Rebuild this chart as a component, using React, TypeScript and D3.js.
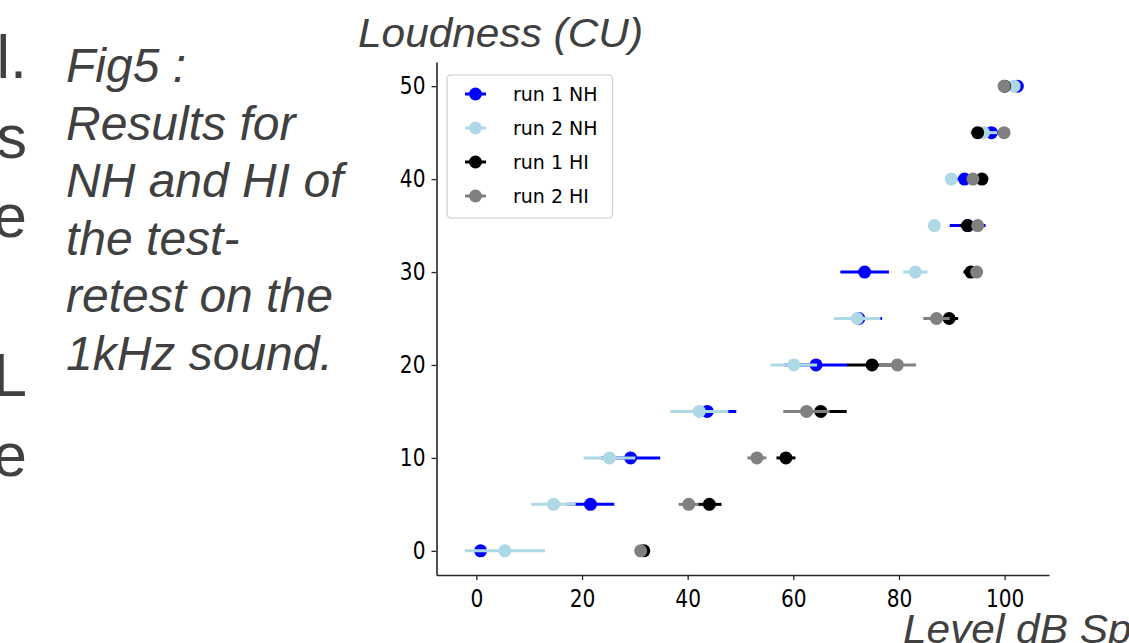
import React, { useRef, useEffect } from 'react';
import * as d3 from 'd3';

// loudness categories (CU) on the y axis
const levels = [0, 5, 10, 15, 20, 25, 30, 35, 40, 45, 50];

// mean level (dB) and spread per loudness category
const run1NH = [0.8, 21.6, 29.2, 43.7, 64.3, 72.4, 73.5, 93.0, 92.4, 97.5, 102.4];
const run1NHErr = [1.0, 4.5, 5.6, 5.5, 6.0, 4.4, 4.6, 3.4, 1.5, 1.4, 0.5];
const run2NH = [5.4, 14.6, 25.2, 42.2, 60.1, 72.1, 83.1, 86.7, 89.9, 96.0, 101.8];
const run2NHErr = [7.6, 4.2, 4.9, 5.5, 4.4, 4.4, 2.3, 0.8, 0.5, 2.6, 0.5];
const run1HI = [31.7, 44.1, 58.6, 65.2, 74.9, 89.5, 93.6, 93.0, 95.7, 94.9, 100.0];
const run1HIErr = [0.5, 2.3, 1.8, 4.9, 4.7, 1.7, 1.4, 1.5, 0.8, 1.0, 0.5];
const run2HI = [31.1, 40.2, 53.1, 62.5, 79.7, 87.1, 94.7, 94.9, 94.0, 99.9, 99.9];
const run2HIErr = [0.5, 1.9, 1.8, 4.4, 3.5, 2.5, 1.0, 1.0, 0.8, 1.0, 0.5];

const seriesNames = ['run 1 NH', 'run 2 NH', 'run 1 HI', 'run 2 HI'];
const seriesColors = ['#0000ff', '#add8e6', '#000000', '#808080'];

const xTicks = [0, 20, 40, 60, 80, 100];
const yTicks = [0, 10, 20, 30, 40, 50];

const captionLines = ['Fig5 :', 'Results for', 'NH and HI of', 'the test-', 'retest on the', '1kHz sound.'];
const cutLines = ['l.', 's', 'e', '', 'L', 'e'];

const App = () => {
    const ref = useRef<SVGSVGElement>(null);

    useEffect(() => {
        const svg = d3.select(ref.current);
        svg.selectAll('*').remove();

        const W = 1129, H = 643;
        const left = 436.5, right = 1049, top = 62, bottom = 575;
        const textColor = '#404040';
        const sans = '"Liberation Sans", Arial, sans-serif';
        const dejavu = '"DejaVu Sans", sans-serif';

        svg.append('rect').attr('width', W).attr('height', H).attr('fill', '#fff');

        // slide text cut off at the left edge
        svg.append('g').selectAll('text')
            .data(cutLines)
            .enter().append('text')
            .attr('x', 27)
            .attr('y', (d, i) => 78 + i * 79.6)
            .attr('text-anchor', 'end')
            .attr('font-family', sans)
            .attr('font-size', 61)
            .attr('fill', textColor)
            .text(d => d);

        // figure caption
        svg.append('g').selectAll('text')
            .data(captionLines)
            .enter().append('text')
            .attr('x', 66)
            .attr('y', (d, i) => 82 + i * 57.6)
            .attr('font-family', sans)
            .attr('font-style', 'italic')
            .attr('font-size', 48)
            .attr('fill', textColor)
            .text(d => d);

        const x = d3.scaleLinear().domain([-7.55, 108.4]).range([left, right]);
        const y = d3.scaleLinear().domain([-2.6, 52.6]).range([bottom, top]);

        // bottom axis
        const gx = svg.append('g')
            .attr('transform', 'translate(0,' + bottom + ')')
            .call(d3.axisBottom(x).tickValues(xTicks).tickSize(5).tickPadding(10).tickSizeOuter(0));
        gx.select('.domain').attr('stroke', '#262626').attr('stroke-width', 1.6);
        gx.selectAll('.tick line').attr('stroke', '#262626').attr('stroke-width', 1.3);
        gx.selectAll('.tick text')
            .attr('font-family', dejavu)
            .attr('font-size', 24)
            .attr('fill', '#000')
            .attr('transform', 'scale(0.84,1)');

        // left axis
        const gy = svg.append('g')
            .attr('transform', 'translate(' + left + ',0)')
            .call(d3.axisLeft(y).tickValues(yTicks).tickSize(5).tickPadding(6).tickSizeOuter(0));
        gy.select('.domain').attr('stroke', '#262626').attr('stroke-width', 1.6);
        gy.selectAll('.tick line').attr('stroke', '#262626').attr('stroke-width', 1.3);
        gy.selectAll('.tick text')
            .attr('font-family', dejavu)
            .attr('font-size', 24)
            .attr('fill', '#000')
            .attr('x', -11 / 0.84)
            .attr('transform', 'scale(0.84,1)');

        // error bars + markers, one series at a time
        const series = [
            { values: run1NH, err: run1NHErr },
            { values: run2NH, err: run2NHErr },
            { values: run1HI, err: run1HIErr },
            { values: run2HI, err: run2HIErr }
        ];
        series.forEach((s, si) => {
            const g = svg.append('g');
            const pts = levels.map((lv, i) => ({ lv, v: s.values[i], e: s.err[i] }));
            g.selectAll('line')
                .data(pts)
                .enter().append('line')
                .attr('x1', d => x(d.v - d.e))
                .attr('x2', d => x(d.v + d.e))
                .attr('y1', d => y(d.lv))
                .attr('y2', d => y(d.lv))
                .attr('stroke', seriesColors[si])
                .attr('stroke-width', 3);
            g.selectAll('circle')
                .data(pts)
                .enter().append('circle')
                .attr('cx', d => x(d.v))
                .attr('cy', d => y(d.lv))
                .attr('r', 6.5)
                .attr('fill', seriesColors[si]);
        });

        // legend
        const lg = svg.append('g');
        lg.append('rect')
            .attr('x', 447).attr('y', 75)
            .attr('width', 165.5).attr('height', 143)
            .attr('rx', 4)
            .attr('fill', '#fff')
            .attr('fill-opacity', 0.8)
            .attr('stroke', '#cccccc')
            .attr('stroke-width', 1.2);
        const rows = lg.selectAll('.legend').data(seriesNames)
            .enter().append('g')
            .attr('class', 'legend')
            .attr('transform', (d, i) => 'translate(0,' + (94 + i * 34) + ')');
        rows.append('line')
            .attr('x1', 465).attr('x2', 486)
            .attr('stroke', (d, i) => seriesColors[i])
            .attr('stroke-width', 3);
        rows.append('circle')
            .attr('cx', 475.5).attr('r', 6.5)
            .attr('fill', (d, i) => seriesColors[i]);
        rows.append('text')
            .attr('x', 513)
            .attr('dy', '0.36em')
            .attr('font-family', dejavu)
            .attr('font-size', 19)
            .attr('fill', '#000')
            .text(d => d);

        // axis labels, slide style (slightly stretched like the slide)
        svg.append('text')
            .attr('transform', 'translate(358,47) scale(1.06,1)')
            .attr('font-family', sans)
            .attr('font-style', 'italic')
            .attr('font-size', 40)
            .attr('fill', textColor)
            .text('Loudness (CU)');

        svg.append('text')
            .attr('transform', 'translate(903,643) scale(1.06,1)')
            .attr('font-family', sans)
            .attr('font-style', 'italic')
            .attr('font-size', 40)
            .attr('fill', textColor)
            .text('Level dB Spl');
    }, []);

    return (
        <svg ref={ref} width={1129} height={643}
            style={{ position: 'absolute', left: 0, top: 0, display: 'block' }}></svg>
    );
};

export default App;
